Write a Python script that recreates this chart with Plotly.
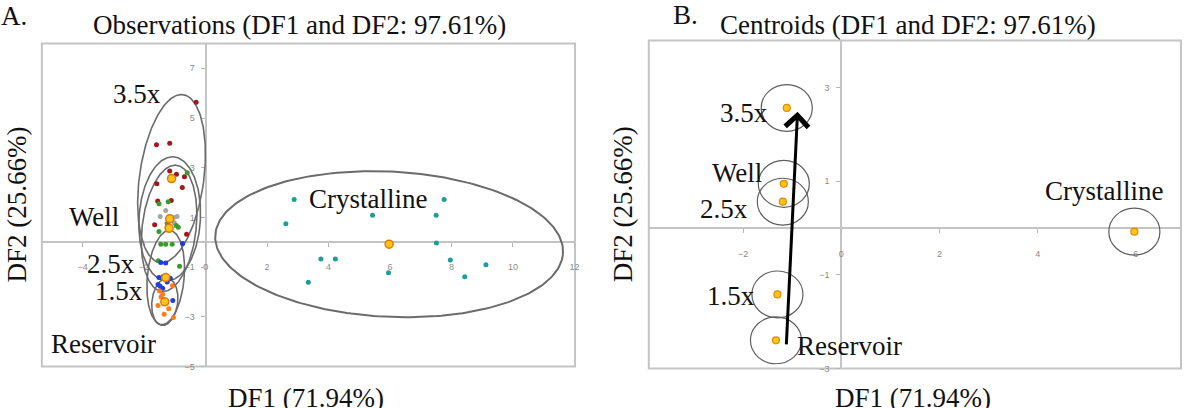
import numpy as np
import plotly.graph_objects as go

# ---------------- data ----------------
groups = ["3.5x", "Well", "2.5x", "1.5x", "Reservoir", "Crystalline"]

# observations (panel A)
obs_35x_x = [-0.31, -1.60, -1.17, -1.17, -0.95, -0.69, -1.59, -0.76, -1.56, -1.66, -0.62, -1.12]
obs_35x_y = [5.63, 3.92, 3.98, 2.87, 2.74, 2.64, 2.35, 2.20, 1.66, 0.70, 0.32, 1.68]

obs_well_x = [-1.48, -0.93, -1.30, -1.02, -1.25, -1.05]
obs_well_y = [1.04, 1.04, 1.28, 0.78, 0.62, 1.00]

obs_25x_x = [-0.60, -1.52, -1.22, -1.52, -0.89, -0.96, -1.46, -1.30, -1.09, -1.54, -0.85, -1.25]
obs_25x_y = [2.80, 1.55, 1.63, 0.43, 0.60, 0.67, -0.08, -0.08, -0.08, -0.75, -0.97, 0.75]

obs_15x_x = [-0.75, -1.46, -1.30, -1.52, -1.38, -1.15, -1.48, -1.40, -1.07, -1.25, -1.55]
obs_15x_y = [-0.05, -0.82, -0.84, -1.42, -1.38, -1.45, -1.77, -1.85, -2.35, -1.60, -1.70]

obs_res_x = [-1.50, -1.40, -1.55, -1.20, -1.05, -1.45, -1.30, -1.35, -1.08]
obs_res_y = [-1.96, -2.09, -2.55, -2.68, -3.03, -2.20, -2.35, -2.90, -1.75]

obs_cry_x = [2.88, 2.61, 5.43, 7.76, 7.50, 7.51, 3.75, 4.22, 7.96, 9.12, 5.95, 8.43, 3.34]
obs_cry_y = [1.72, 0.74, 1.09, 1.72, 1.09, -0.03, -0.68, -0.68, -0.72, -0.91, -1.23, -1.39, -1.61]

# group centroids (both panels)
centroid_x = [-1.11, -1.17, -1.19, -1.30, -1.33, 5.97]
centroid_y = [2.56, 0.94, 0.56, -1.42, -2.40, -0.08]

# confidence ellipses of panel A: semi-axes (DF units) and rotation (deg)
ellipse_rx = [1.05, 1.00, 0.88, 0.60, 0.42, 5.67]
ellipse_ry = [3.40, 2.50, 2.55, 1.90, 0.95, 2.92]
ellipse_rot = [-6.0, -2.5, -5.0, -4.0, -5.0, -4.0]

# tick values
xticks_a = [-4, -2, 0, 2, 4, 6, 8, 10, 12]
yticks_a = [-5, -3, -1, 1, 3, 5, 7]
xticks_b = [-2, 0, 2, 4, 6]
yticks_b = [-3, -1, 1, 3]

# ---------------- styles ----------------
W, H = 1188, 408
SERIF = "Liberation Serif, Times New Roman, serif"
FS = 27
GREY = "#c4c4c4"
colors = {"3.5x": "#a3171b", "Well": "#a6a6a6", "2.5x": "#3a9a2a",
          "1.5x": "#1f3ee0", "Reservoir": "#ff7b1c", "Crystalline": "#1e9c98"}

xr_a = [-5.33, 12.02]
yr_a = [-5.0, 8.0]
xr_b = [-3.92, 6.92]
yr_b = [-3.0, 4.0]

xd_a = [42 / W, 577 / W]
yd_a = [1 - 371 / H, 1 - 44 / H]
xd_b = [651 / W, 1185 / W]
yd_b = [1 - 373 / H, 1 - 41 / H]


def zero_pos(rng, dom):
    return dom[0] + (0 - rng[0]) / (rng[1] - rng[0]) * (dom[1] - dom[0])


fig = go.Figure()

# ellipses (panel A)
t = np.linspace(0, 2 * np.pi, 241)
for i, g in enumerate(groups):
    th = np.deg2rad(ellipse_rot[i])
    ex = centroid_x[i] + ellipse_rx[i] * np.cos(t) * np.cos(th) - ellipse_ry[i] * np.sin(t) * np.sin(th)
    ey = centroid_y[i] + ellipse_rx[i] * np.cos(t) * np.sin(th) + ellipse_ry[i] * np.sin(t) * np.cos(th)
    fig.add_trace(go.Scatter(x=ex, y=ey, mode="lines", xaxis="x", yaxis="y",
                             line=dict(color="#6b6b6b", width=1.6 if g != "Crystalline" else 2.0),
                             hoverinfo="skip", showlegend=False))

obs = [(obs_35x_x, obs_35x_y, "3.5x"), (obs_well_x, obs_well_y, "Well"),
       (obs_25x_x, obs_25x_y, "2.5x"), (obs_15x_x, obs_15x_y, "1.5x"),
       (obs_res_x, obs_res_y, "Reservoir"), (obs_cry_x, obs_cry_y, "Crystalline")]
for ox, oy, g in obs:
    fig.add_trace(go.Scatter(x=ox, y=oy, mode="markers", xaxis="x", yaxis="y",
                             marker=dict(size=5, color=colors[g]), name=g, showlegend=False))

# centroids panel A
fig.add_trace(go.Scatter(x=centroid_x, y=centroid_y, mode="markers", xaxis="x", yaxis="y",
                         marker=dict(size=8, color="#ffc41a", line=dict(color="#e07a00", width=1.5)),
                         showlegend=False))
# centroids panel B
fig.add_trace(go.Scatter(x=centroid_x, y=centroid_y, mode="markers", xaxis="x2", yaxis="y2",
                         marker=dict(size=7, color="#ffc41a", line=dict(color="#e08a00", width=1.2)),
                         showlegend=False))

shapes = []
# frames
for xa, ya in (("x", "y"), ("x2", "y2")):
    shapes.append(dict(type="rect", xref=f"{xa} domain", yref=f"{ya} domain",
                       x0=0, x1=1, y0=0, y1=1, line=dict(color=GREY, width=2), layer="below"))
# circles around centroids (panel B)
R_X, R_Y = 0.52, 0.50
for cx, cy in zip(centroid_x, centroid_y):
    shapes.append(dict(type="circle", xref="x2", yref="y2",
                       x0=cx - R_X, x1=cx + R_X, y0=cy - R_Y, y1=cy + R_Y,
                       line=dict(color="#5e5e5e", width=1.2)))

axis_common = dict(showgrid=False, zeroline=False, showline=True, linecolor=GREY, linewidth=2,
                   ticks="outside", ticklen=4, tickwidth=1, tickcolor="#b5b5b5",
                   tickfont=dict(family="Liberation Sans, Arial", size=9, color="#8a8a8a"),
                   anchor="free", layer="below traces", fixedrange=True)

fig.update_layout(
    width=W, height=H, margin=dict(l=0, r=0, t=0, b=0),
    paper_bgcolor="white", plot_bgcolor="white", showlegend=False,
    xaxis=dict(axis_common, domain=xd_a, range=xr_a, tickvals=xticks_a,
               position=zero_pos(yr_a, yd_a), ticklabelstandoff=12),
    yaxis=dict(axis_common, domain=yd_a, range=yr_a, tickvals=yticks_a,
               position=zero_pos(xr_a, xd_a), ticklabelstandoff=4),
    xaxis2=dict(axis_common, domain=xd_b, range=xr_b, tickvals=xticks_b,
                position=zero_pos(yr_b, yd_b), ticklabelstandoff=13),
    yaxis2=dict(axis_common, domain=yd_b, range=yr_b, tickvals=yticks_b,
                position=zero_pos(xr_b, xd_b), ticklabelstandoff=5),
    shapes=shapes,
)

font = dict(family=SERIF, size=FS, color="#111111")
ann = []


def add_text(text, x, y, xref, yref, xanchor="center", yanchor="middle", angle=0):
    ann.append(dict(text=text, x=x, y=y, xref=xref, yref=yref, xanchor=xanchor,
                    yanchor=yanchor, showarrow=False, font=font, textangle=angle))


# paper texts
add_text("A.", 14 / W, 1 - 16 / H, "paper", "paper")
add_text("Observations (DF1 and DF2: 97.61%)", 301 / W, 1 - 25 / H, "paper", "paper")
add_text("B.", 688 / W, 1 - 15 / H, "paper", "paper")
add_text("Centroids (DF1 and DF2: 97.61%)", 911 / W, 1 - 25 / H, "paper", "paper")
add_text("DF1 (71.94%)", 307 / W, 1 - 403 / H, "paper", "paper")
add_text("DF1 (71.94%)", 916 / W, 1 - 403 / H, "paper", "paper")
add_text("DF2 (25.66%)", 18 / W, 1 - 207 / H, "paper", "paper", angle=-90)
add_text("DF2 (25.66%)", 626 / W, 1 - 207 / H, "paper", "paper", angle=-90)

# group labels panel A
add_text("3.5x", -1.40, 5.98, "x", "y", "right")
add_text("Well", -2.76, 1.00, "x", "y", "right")
add_text("2.5x", -2.24, -0.88, "x", "y", "right")
add_text("1.5x", -1.98, -1.98, "x", "y", "right")
add_text("Reservoir", -1.56, -4.08, "x", "y", "right")
add_text("Crystalline", 5.27, 1.72, "x", "y")

# group labels panel B
add_text("3.5x", -1.46, 2.45, "x2", "y2", "right")
add_text("Well", -1.58, 1.17, "x2", "y2", "right")
add_text("2.5x", -1.85, 0.41, "x2", "y2", "right")
add_text("1.5x", -1.72, -1.45, "x2", "y2", "right")
add_text("Reservoir", -0.95, -2.53, "x2", "y2", "left")
add_text("Crystalline", 5.36, 0.79, "x2", "y2")

# arrow from Reservoir to 3.5x (panel B)
ann.append(dict(text="", x=-0.89, y=2.48, xref="x2", yref="y2",
                ax=-1.12, ay=-2.52, axref="x2", ayref="y2", showarrow=True,
                arrowhead=4, arrowsize=1.5, arrowwidth=3, arrowcolor="#000000"))

fig.update_layout(annotations=ann)
fig.write_html("out.html")
